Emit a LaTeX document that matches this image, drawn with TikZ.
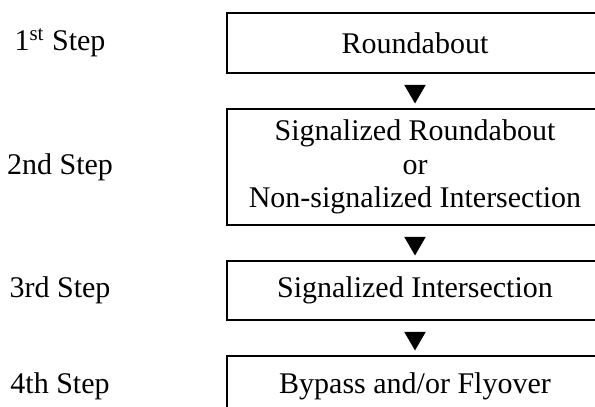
\documentclass[tikz,border=0pt]{standalone}
\usepackage{fontspec}
\setmainfont{Liberation Serif}
\usetikzlibrary{positioning,shapes.geometric}
\tikzset{
  stepbox/.style={draw,line width=1pt,minimum width=188pt,minimum height=#1,
    align=center,outer sep=0pt,font=\fontsize{15}{16.6}\selectfont},
  stepbox/.default=30pt,
  steptag/.style={font=\fontsize{15}{16.6}\selectfont},
  downmark/.style={regular polygon,regular polygon sides=3,shape border rotate=180,
    fill=black,inner sep=0pt,minimum size=12.5pt},
}

\begin{document}
\begin{tikzpicture}[node distance=18pt]
  \useasboundingbox (0,0) rectangle (297.5pt,-203.5pt);
  \clip (0,0) rectangle (297.5pt,-203.5pt);
  % the four steps
  \node[stepbox] (b1) at (207.5pt,-21.5pt) {Roundabout};
  \node[stepbox=58pt,below=of b1] (b2) {Signalized Roundabout\\or\\Non-signalized Intersection};
  \node[stepbox=29.5pt,below=of b2] (b3) {Signalized Intersection};
  \node[stepbox,below=of b3] (b4) {Bypass and/or Flyover};
  \foreach \a/\b in {b1/b2,b2/b3,b3/b4}
    \path (\a.south) -- (\b.north) node[downmark,midway] (m-\a) {};
  % labels on the left
  \node[steptag] (t1) at (30pt,0 |- b1) {1\textsuperscript{st} Step};
  \node[steptag] (t2) at (30pt,0 |- b2) {2nd Step};
  \node[steptag] (t3) at (30pt,0 |- b3) {3rd Step};
  \node[steptag] (t4) at (30pt,0 |- b4) {4th Step};
\end{tikzpicture}
\end{document}
